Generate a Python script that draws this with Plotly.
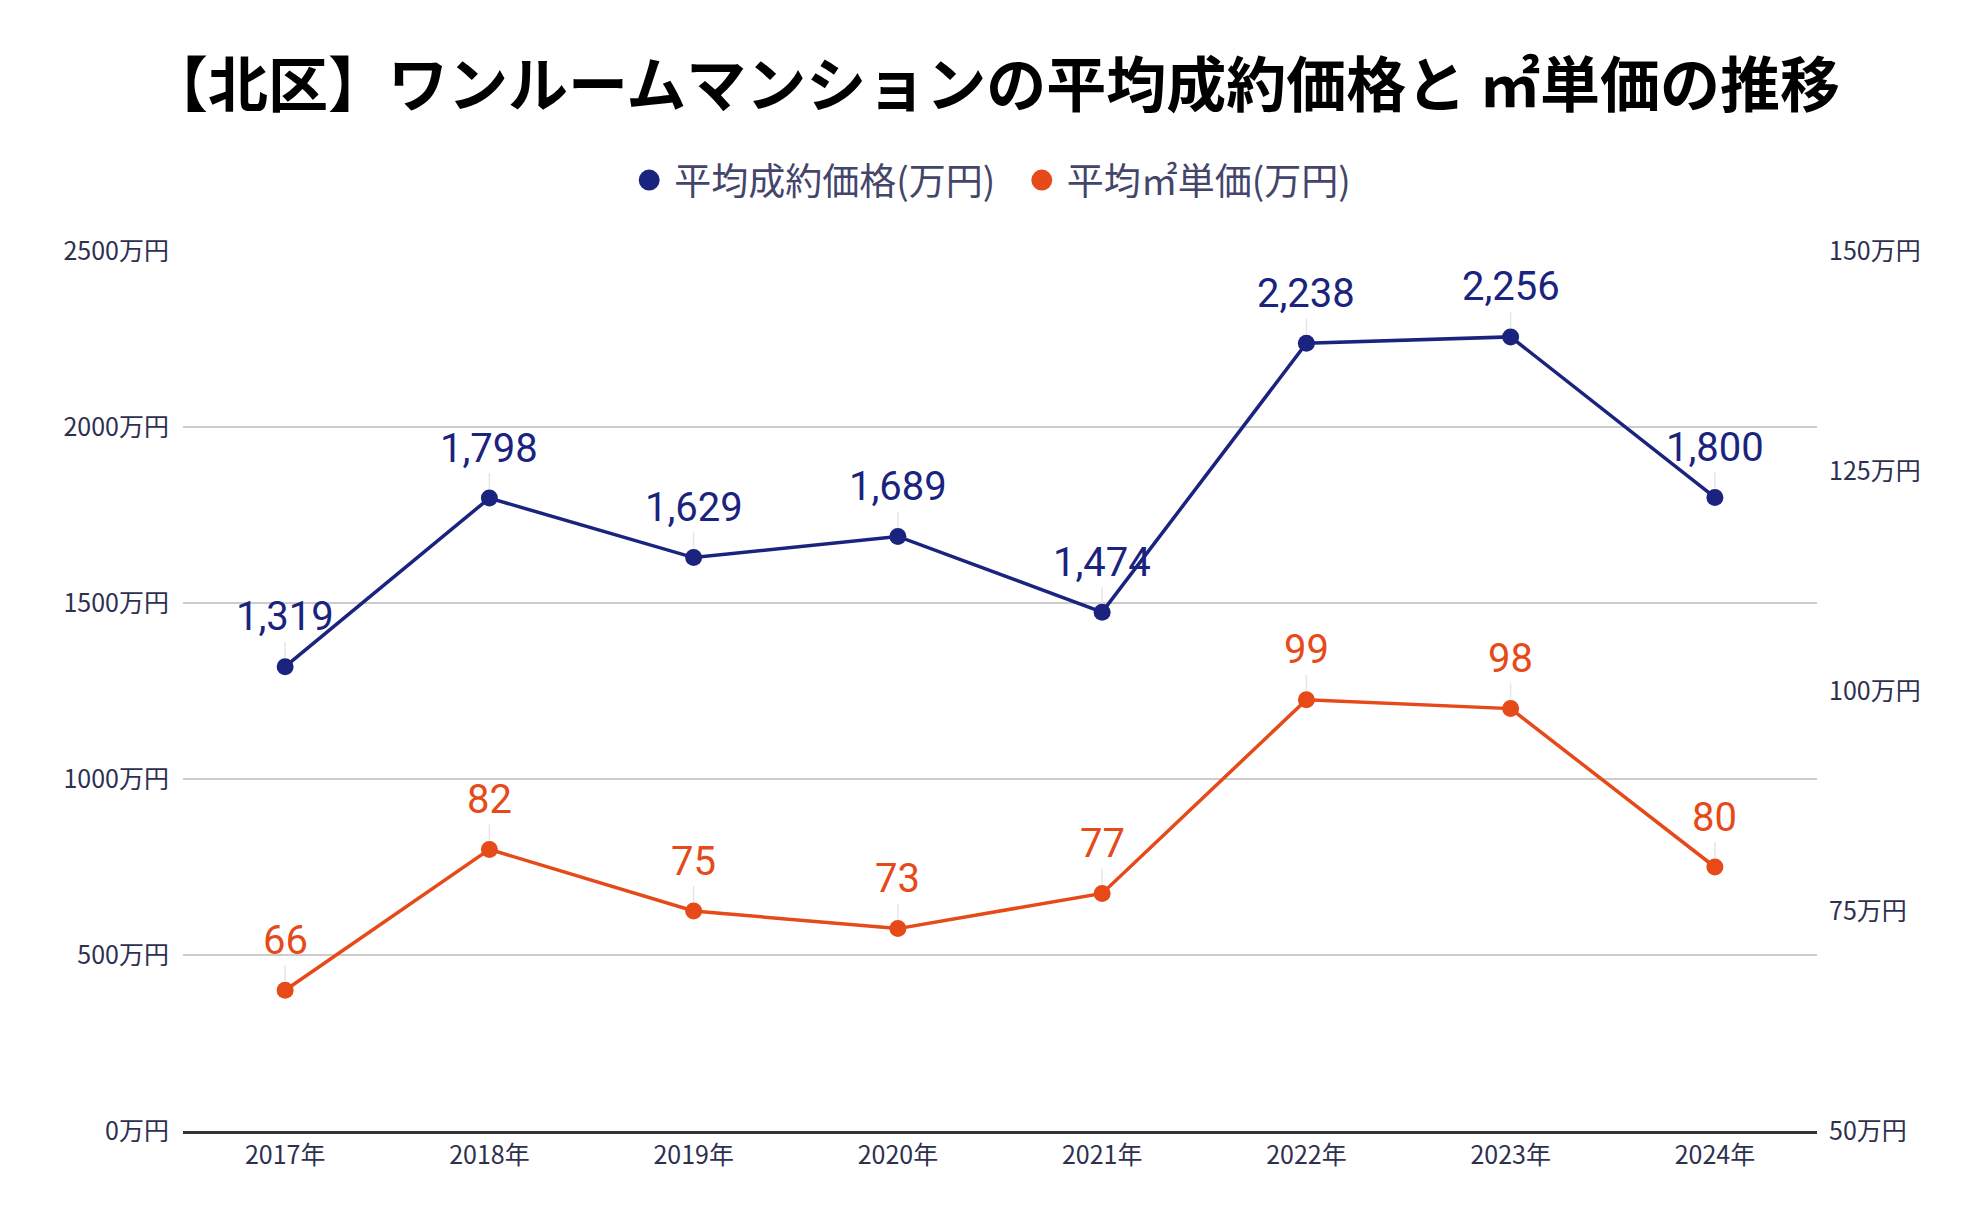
import plotly.graph_objects as go

years = ["2017年", "2018年", "2019年", "2020年", "2021年", "2022年", "2023年", "2024年"]
avg_price = [1319, 1798, 1629, 1689, 1474, 2238, 2256, 1800]
unit_price = [66, 82, 75, 73, 77, 99, 98, 80]
left_ticks = [0, 500, 1000, 1500, 2000, 2500]
right_ticks = [50, 75, 100, 125, 150]

BLUE = "#1a237e"
ORANGE = "#e64a19"
TICK_COLOR = "#2e3050"
CJK = "Noto Sans CJK JP"

fig = go.Figure()
fig.add_trace(go.Scatter(
    x=years, y=avg_price, name="平均成約価格(万円)", mode="lines+markers",
    line=dict(color=BLUE, width=3.5), marker=dict(size=17, color=BLUE),
    yaxis="y", cliponaxis=False, showlegend=False,
))
fig.add_trace(go.Scatter(
    x=years, y=unit_price, name="平均㎡単価(万円)", mode="lines+markers",
    line=dict(color=ORANGE, width=3.5), marker=dict(size=17, color=ORANGE),
    yaxis="y2", cliponaxis=False, showlegend=False,
))
# legend entries (marker only, like the reference)
fig.add_trace(go.Scatter(
    x=[None], y=[None], name="平均成約価格(万円)\u00a0\u00a0", mode="markers",
    marker=dict(size=24, color=BLUE, line=dict(color=BLUE, width=5)), yaxis="y",
))
fig.add_trace(go.Scatter(
    x=[None], y=[None], name="平均㎡単価(万円)", mode="markers",
    marker=dict(size=24, color=ORANGE, line=dict(color=ORANGE, width=5)), yaxis="y2",
))

annotations = []
for x, v in zip(years, avg_price):
    annotations.append(dict(
        x=x, y=v, xref="x", yref="y", text=f"{v:,}", showarrow=True,
        arrowhead=0, arrowwidth=1.5, arrowcolor="#e6e6e6", ax=0, ay=-50,
        standoff=9, font=dict(family="Roboto", size=40, color=BLUE),
    ))
for x, v in zip(years, unit_price):
    annotations.append(dict(
        x=x, y=v, xref="x", yref="y2", text=f"{v}", showarrow=True,
        arrowhead=0, arrowwidth=1.5, arrowcolor="#e6e6e6", ax=0, ay=-50,
        standoff=9, font=dict(family="Roboto", size=40, color=ORANGE),
    ))

fig.update_layout(
    width=1984, height=1228,
    paper_bgcolor="white", plot_bgcolor="white",
    margin=dict(l=183, r=167, t=251, b=97),
    title=dict(
        text="<b>【北区】ワンルームマンションの平均成約価格と ㎡単価の推移</b>",
        x=0.501, xanchor="center", y=0.93, yanchor="middle",
        font=dict(family=CJK, size=60, color="#000000"),
    ),
    legend=dict(
        orientation="h", x=0.494, xanchor="center", y=0.853, yref="container",
        yanchor="middle", font=dict(family=CJK, size=37, color="#44456a"),
        itemwidth=40, itemsizing="trace",
    ),
    showlegend=True,
    xaxis=dict(
        type="category", range=[-0.5, 7.5], showgrid=False,
        showline=True, linecolor="#333333", linewidth=3,
        ticks="", tickfont=dict(family=CJK, size=25, color=TICK_COLOR),
        fixedrange=True,
    ),
    yaxis=dict(
        range=[0, 2500], tickvals=left_ticks,
        ticktext=[f"{t}万円" for t in left_ticks],
        showgrid=True, gridcolor="#cccccc", gridwidth=1.5,
        zeroline=False, showline=False, ticks="outside", ticklen=8,
        tickcolor="white",
        tickfont=dict(family=CJK, size=25, color=TICK_COLOR),
    ),
    yaxis2=dict(
        range=[50, 150], tickvals=right_ticks,
        ticktext=[f"{t}万円" for t in right_ticks],
        overlaying="y", side="right", showgrid=False, zeroline=False,
        showline=False, ticks="outside", ticklen=6, tickcolor="white",
        tickfont=dict(family=CJK, size=25, color=TICK_COLOR),
    ),
    annotations=annotations,
)

fig.write_html(
    "out.html",
    config={"displayModeBar": False},
    post_script="document.body.style.margin='0';",
)
